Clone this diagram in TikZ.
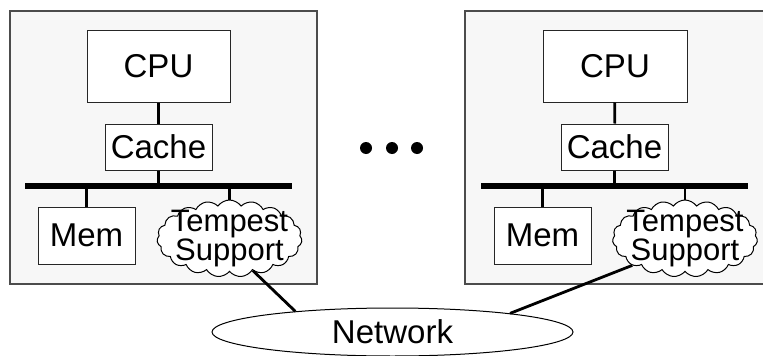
\documentclass[tikz,border=0pt]{standalone}
\usepackage{fontspec}
\setmainfont{Liberation Sans}
\usetikzlibrary{shapes.symbols,shapes.geometric}
\begin{document}
\begin{tikzpicture}[x=1pt,y=-1pt,
  lbl/.style={font=\fontsize{33}{33}\selectfont},
  nodebox/.style={draw=black!85,line width=1pt,fill=white,rectangle,inner sep=0pt,lbl},
  outerbox/.style={draw=black!70,line width=1.6pt,fill=black!3},
  wire/.style={line width=2.8pt,black},
  bus/.style={line width=6pt,black},
  puff/.style={cloud,cloud puffs=19,cloud puff arc=110,cloud ignores aspect,
    draw=black,line width=1pt,fill=white,inner sep=0pt,
    minimum width=145pt,minimum height=77pt},
  cloudtext/.style={font=\fontsize{31}{24.5}\selectfont,align=center},
  dot/.style={circle,fill=black,inner sep=0pt,minimum size=12pt}]
\useasboundingbox (0,0) rectangle (763,356);

% the two machine enclosures
\draw[outerbox] (10,11) rectangle (317,284);
\draw[outerbox] (465,11) rectangle (772,284);

% left machine
\node[nodebox,minimum width=143pt,minimum height=72pt] (cpuL) at (158.5,66) {CPU};
\node[nodebox,minimum width=107pt,minimum height=46pt] (cacheL) at (158.5,147) {Cache};
\node[nodebox,minimum width=97pt,minimum height=57pt] (memL) at (86.5,235.5) {Mem};
\node[puff,label={[cloudtext]center:Tempest\\Support}] (tsL) at (229.5,238.5) {};
\coordinate (busLa) at (25,185.7);
\coordinate (busLb) at (292,185.7);
\draw[bus] (busLa) -- (busLb);
\draw[wire] (cpuL) -- (cacheL);
\draw[wire] (cacheL.south) -- (cacheL.south |- busLa);
\draw[wire] (memL.north |- busLa) -- (memL.north);
\draw[wire] (tsL.north |- busLa) -- (tsL.north);

% right machine
\node[nodebox,minimum width=144pt,minimum height=72pt] (cpuR) at (615,66) {CPU};
\node[nodebox,minimum width=107pt,minimum height=46pt] (cacheR) at (614.5,147) {Cache};
\node[nodebox,minimum width=97pt,minimum height=57pt] (memR) at (542.5,235.5) {Mem};
\node[puff,label={[cloudtext]center:Tempest\\Support}] (tsR) at (685,238.5) {};
\coordinate (busRa) at (481,185.7);
\coordinate (busRb) at (748,185.7);
\draw[bus] (busRa) -- (busRb);
\draw[wire] (cpuR) -- (cacheR);
\draw[wire] (cacheR.south) -- (cacheR.south |- busRa);
\draw[wire] (memR.north |- busRa) -- (memR.north);
\draw[wire] (tsR.north |- busRa) -- (tsR.north);

% ellipsis between machines
\node[dot] (d1) at (366,148) {};
\node[dot] (d2) at (392,148) {};
\node[dot] (d3) at (417,148) {};

% interconnect
\node[ellipse,draw=black,line width=1pt,fill=white,inner sep=0pt,
  minimum width=361pt,minimum height=48pt,lbl] (net) at (392.5,332) {Network};
\draw[wire] (tsL.-54) -- (net.168);
\draw[wire] (tsR.-153) -- (net.9.5);
\end{tikzpicture}
\end{document}
